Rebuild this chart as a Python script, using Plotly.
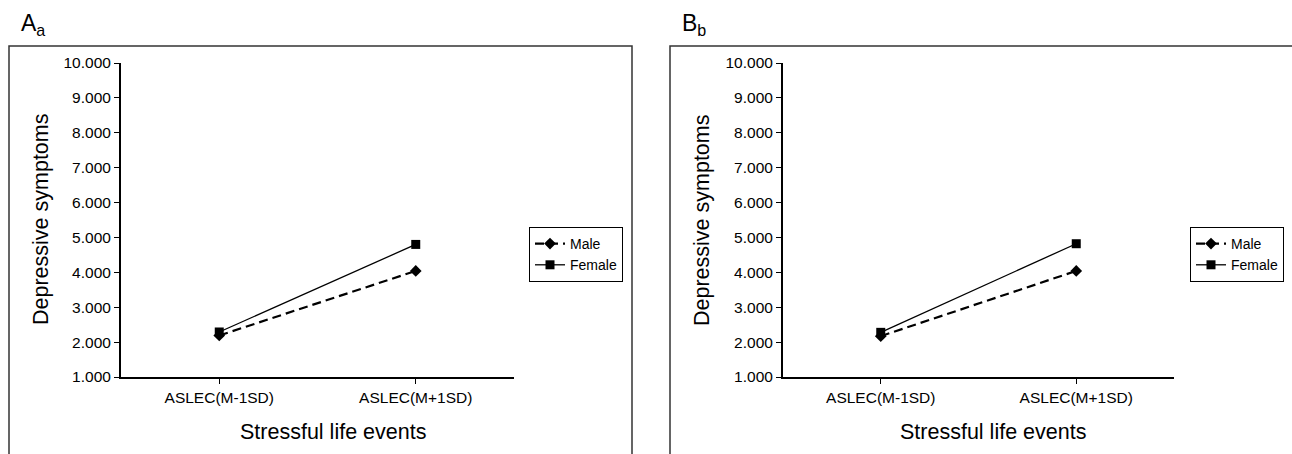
import plotly.graph_objects as go

W, H = 1292, 454

categories = ["ASLEC(M-1SD)", "ASLEC(M+1SD)"]
male_a = [2.19, 4.04]
female_a = [2.29, 4.80]
male_b = [2.17, 4.04]
female_b = [2.28, 4.82]
y_ticks = [1, 2, 3, 4, 5, 6, 7, 8, 9, 10]
panel_labels = ["A<sub>a</sub>", "B<sub>b</sub>"]

FONT = "Liberation Sans, Arial, sans-serif"

def px_x(p):
    return p / W

def px_y(p):
    return 1 - p / H

fig = go.Figure()

panels = [
    dict(male=male_a, female=female_a, xa="x", ya="y", legend="legend",
         xdom=[px_x(121), px_x(514)]),
    dict(male=male_b, female=female_b, xa="x2", ya="y2", legend="legend2",
         xdom=[px_x(783), px_x(1174)]),
]

for p in panels:
    fig.add_trace(go.Scatter(
        x=categories, y=p["male"], name="Male", mode="lines+markers",
        line=dict(color="black", width=2.2, dash="9px,5px"),
        marker=dict(symbol="diamond", size=9, color="black"),
        xaxis=p["xa"], yaxis=p["ya"], legend=p["legend"]))
    fig.add_trace(go.Scatter(
        x=categories, y=p["female"], name="Female", mode="lines+markers",
        line=dict(color="black", width=1.3),
        marker=dict(symbol="square", size=9, color="black"),
        xaxis=p["xa"], yaxis=p["ya"], legend=p["legend"]))

ydom = [px_y(377), px_y(63)]

axis_common_x = dict(
    type="category", range=[-0.5, 1.5], showline=True, linecolor="black",
    linewidth=2, ticks="outside", ticklen=5, tickcolor="black", tickwidth=1,
    showgrid=False, zeroline=False, automargin=False,
    tickfont=dict(family=FONT, size=15.5, color="black"),
)
axis_common_y = dict(
    range=[1, 10], tickvals=y_ticks, tickformat=".3f", showline=True,
    linecolor="black", linewidth=2, ticks="outside", ticklen=5,
    tickcolor="black", tickwidth=1, showgrid=False, zeroline=False,
    automargin=False,
    tickfont=dict(family=FONT, size=15.5, color="black"),
)

legend_common = dict(
    bordercolor="black", borderwidth=1, bgcolor="white",
    font=dict(family=FONT, size=14, color="black"),
    xanchor="left", yanchor="top", itemwidth=30, tracegroupgap=0,
)

fig.update_layout(
    template="none",
    width=W, height=H, margin=dict(l=0, r=0, t=0, b=0, autoexpand=False),
    plot_bgcolor="white", paper_bgcolor="white",
    xaxis=dict(domain=panels[0]["xdom"], anchor="y", **axis_common_x),
    yaxis=dict(domain=ydom, anchor="x", **axis_common_y),
    xaxis2=dict(domain=panels[1]["xdom"], anchor="y2", **axis_common_x),
    yaxis2=dict(domain=ydom, anchor="x2", **axis_common_y),
    legend=dict(x=px_x(529), y=px_y(227), **legend_common),
    legend2=dict(x=px_x(1190), y=px_y(227), **legend_common),
    showlegend=True,
)

# panel frames
fig.add_shape(type="rect", xref="paper", yref="paper",
              x0=px_x(9), x1=px_x(632), y0=-0.2, y1=px_y(46),
              line=dict(color="#333333", width=1.5), layer="below")
fig.add_shape(type="rect", xref="paper", yref="paper",
              x0=px_x(670), x1=1.2, y0=-0.2, y1=px_y(46),
              line=dict(color="#333333", width=1.5), layer="below")

# panel labels
for lbl, xp in zip(panel_labels, [19, 680]):
    fig.add_annotation(text=lbl, xref="paper", yref="paper",
                       x=px_x(xp), y=px_y(41), xanchor="left", yanchor="bottom",
                       showarrow=False, font=dict(family=FONT, size=23, color="black"))

# axis titles
for cx, yx in [(333, 41), (993, 702)]:
    fig.add_annotation(text="Stressful life events", xref="paper", yref="paper",
                       x=px_x(cx), y=px_y(432), xanchor="center", yanchor="middle",
                       showarrow=False, font=dict(family=FONT, size=21.5, color="black"))
    fig.add_annotation(text="Depressive symptoms", xref="paper", yref="paper",
                       x=px_x(yx), y=px_y(220), xanchor="center", yanchor="middle",
                       textangle=-90, showarrow=False,
                       font=dict(family=FONT, size=21.5, color="black"))

fig.write_html("out.html", config={"displayModeBar": False},
               post_script="document.body.style.margin='0';")
